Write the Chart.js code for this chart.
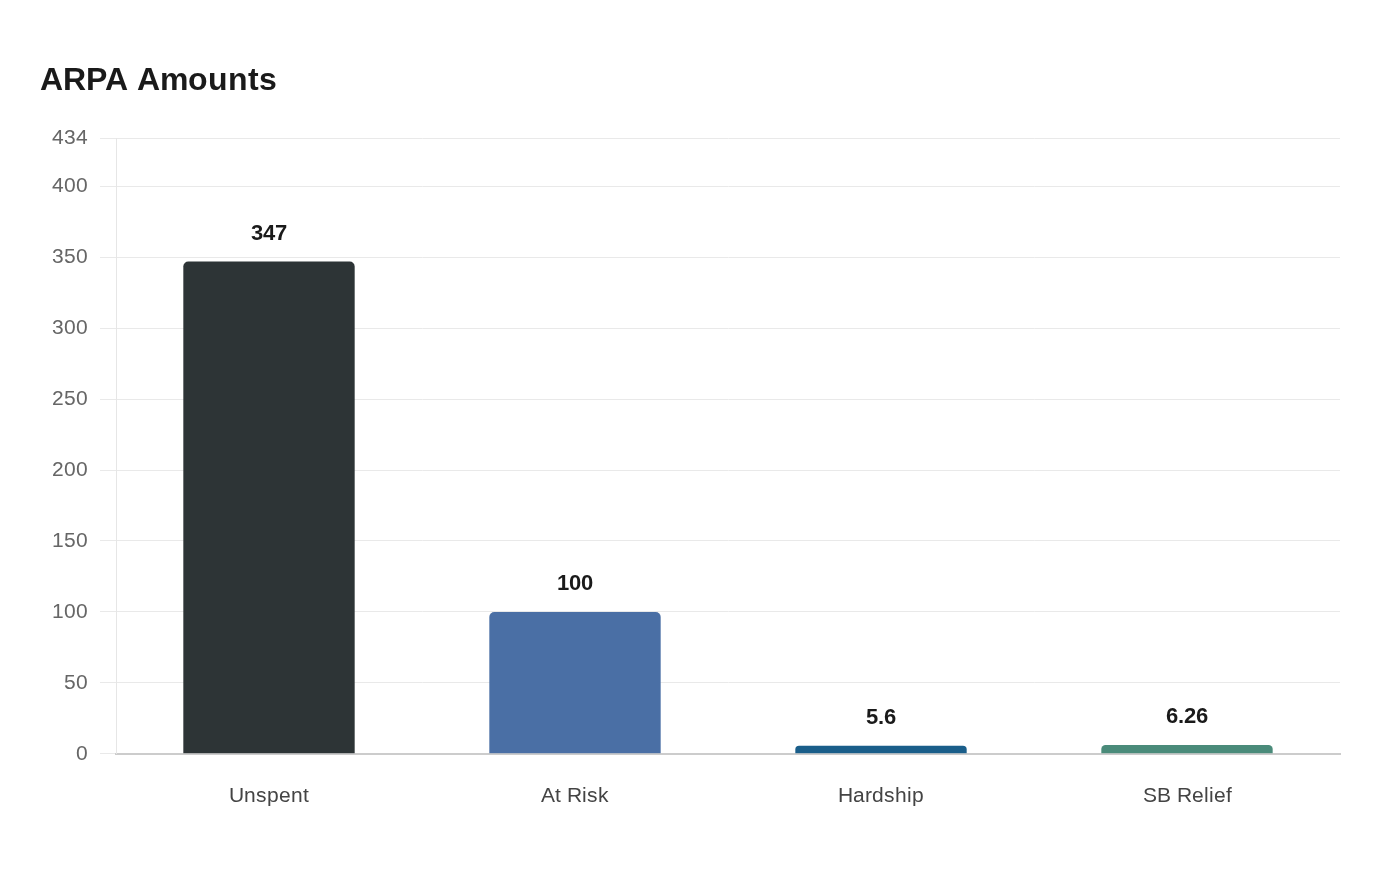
<!DOCTYPE html>
<html>
<head>
<meta charset="utf-8">
<script src="https://cdn.jsdelivr.net/npm/chart.js@4.4.0/dist/chart.umd.min.js"></script>
<style>
@font-face{font-family:"ChartSans";src:local("Liberation Sans"),local("LiberationSans-Regular"),local("LiberationSans");font-weight:400}
@font-face{font-family:"ChartSans";src:local("Liberation Sans Bold"),local("LiberationSans-Bold");font-weight:700}
html,body{margin:0;padding:0;background:#fff}
#wrap{position:relative;width:1400px;height:880px}
.probe{position:absolute;left:-999px;font-family:"ChartSans"}
</style>
</head>
<body>
<span class="probe">a</span><span class="probe" style="font-weight:700">a</span>
<div id="wrap"><canvas id="arpaChart"></canvas></div>
<script>
const categories=["Unspent","At Risk","Hardship","SB Relief"];
const amounts=[347,100,5.6,6.26];
const barColors=["#2d3436","#4a6fa5","#1a5e8a","#4a8b7a"];
const yTicks=[0,50,100,150,200,250,300,350,400,434];
const FONT="ChartSans, 'Liberation Sans', Arimo, Arial, sans-serif";

const valueLabels={
  id:"valueLabels",
  afterDatasetsDraw(chart){
    const ctx=chart.ctx;
    const meta=chart.getDatasetMeta(0);
    ctx.save();
    ctx.font="bold 22px "+FONT;
    ctx.fillStyle="#1a1a1a";
    ctx.textAlign="center";
    ctx.textBaseline="middle";
    meta.data.forEach((bar,i)=>{ctx.fillText(String(amounts[i]),bar.x,bar.y-28)});
    ctx.restore();
  }
};

function draw(){
  Chart.defaults.font.family=FONT;
  new Chart(document.getElementById("arpaChart"),{
    type:"bar",
    data:{labels:categories,datasets:[{data:amounts,backgroundColor:barColors,borderRadius:5,borderSkipped:"start",categoryPercentage:0.8,barPercentage:0.7}]},
    options:{
      responsive:true,maintainAspectRatio:false,animation:false,
      layout:{padding:{top:52,left:40,right:60,bottom:49}},
      plugins:{
        legend:{display:false},tooltip:{enabled:false},
        title:{display:true,text:"ARPA Amounts",align:"start",color:"#1a1a1a",font:{size:32,weight:"bold"},padding:{top:10,bottom:37.6}}
      },
      scales:{
        x:{grid:{display:false},border:{color:"#cccccc",width:2},ticks:{color:"#444",font:{size:21},padding:22}},
        y:{min:0,max:434,
          afterBuildTicks(scale){scale.ticks=yTicks.map(v=>({value:v}))},
          afterFit(scale){scale.width=76},
          grid:{color:"#e9e9e9",tickLength:16},border:{color:"#e6e6e6"},
          ticks:{color:"#666",font:{size:21},padding:12}}
      }
    },
    plugins:[valueLabels]
  });
}
Promise.all([document.fonts.load("21px ChartSans"),document.fonts.load("bold 22px ChartSans")]).catch(()=>{}).then(draw);
</script>
</body>
</html>
